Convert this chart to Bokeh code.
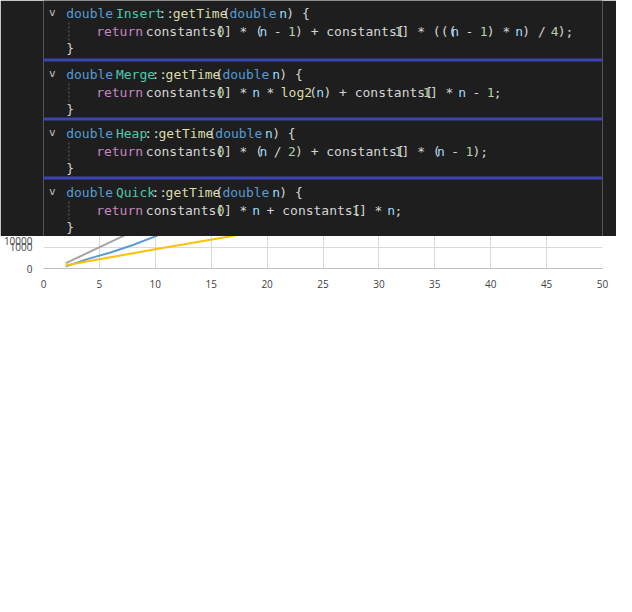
from bokeh.embed import file_html
from bokeh.resources import INLINE
from bokeh.layouts import column
from bokeh.models import Range1d, Legend, SingleIntervalTicker, NumeralTickFormatter
from bokeh.plotting import figure
from bokeh.core.properties import value

# chart values
insert_n = [2, 4, 6, 8, 10, 12, 14, 16, 18, 20, 22, 24, 26, 28, 30, 32]
insert_t = [100, 450, 750, 1100, 1500, 2000, 2650, 3400, 4200, 5000, 5850, 6800, 7850, 9000, 10250, 11500]
merge_n = [2, 3, 4, 5, 6, 7]
merge_t = [2600, 4400, 6300, 8200, 10100, 12000]
heap_n = [2, 10, 20, 30, 40, 50]
heap_t = [250, 2230, 4700, 7150, 9620, 12100]
quick_n = [2, 10, 20, 30, 40, 50]
quick_t = [150, 900, 1800, 2720, 3650, 4560]
x_ticks = list(range(0, 51, 5))

W = 616
MONO = "DejaVu Sans Mono"
CW = 13 * 0.602  # char width at 13px
KW, CL, FN, RET, VAR, NUM, TXT = "#569cd6", "#4ec9b0", "#dcdcaa", "#c586c0", "#9cdcfe", "#b5cea8", "#d4d4d4"

blocks = [
    ("Insert", [("return", RET), (" constants[", TXT), ("0", NUM), ("] * (", TXT), ("n", VAR), (" - ", TXT),
                ("1", NUM), (") + constants[", TXT), ("1", NUM), ("] * (((", TXT), ("n", VAR), (" - ", TXT),
                ("1", NUM), (") * ", TXT), ("n", VAR), (") / ", TXT), ("4", NUM), (");", TXT)]),
    ("Merge", [("return", RET), (" constants[", TXT), ("0", NUM), ("] * ", TXT), ("n", VAR), (" * ", TXT),
               ("log2", FN), ("(", TXT), ("n", VAR), (") + constants[", TXT), ("1", NUM), ("] * ", TXT),
               ("n", VAR), (" - ", TXT), ("1", NUM), (";", TXT)]),
    ("Heap", [("return", RET), (" constants[", TXT), ("0", NUM), ("] * (", TXT), ("n", VAR), (" / ", TXT),
              ("2", NUM), (") + constants[", TXT), ("1", NUM), ("] * (", TXT), ("n", VAR), (" - ", TXT),
              ("1", NUM), (");", TXT)]),
    ("Quick", [("return", RET), (" constants[", TXT), ("0", NUM), ("] * ", TXT), ("n", VAR),
               (" + constants[", TXT), ("1", NUM), ("] * ", TXT), ("n", VAR), (";", TXT)]),
]

code = figure(width=W, height=236, x_range=Range1d(0, W), y_range=Range1d(236, 0),
              toolbar_location=None, tools="", output_backend="svg",
              x_axis_location=None, y_axis_location=None,
              background_fill_color="#1e1e1e", border_fill_color="#1e1e1e",
              min_border_left=0, min_border_right=0, min_border_top=0, min_border_bottom=0,
              sizing_mode="fixed")
code.grid.visible = False
code.outline_line_color = None

xs, ys, texts, colors = [], [], [], []


def put(tokens, x0, y):
    x = x0
    for t, c in tokens:
        # leading/trailing spaces are skipped in SVG, so shift instead
        stripped = t.lstrip(" ")
        lead = len(t) - len(stripped)
        if stripped.strip():
            xs.append(x + lead * CW); ys.append(y); texts.append(stripped.rstrip(" ")); colors.append(c)
        x += len(t) * CW


block_top = [0, 61, 120, 179]
for i, (name, body) in enumerate(blocks):
    y0 = block_top[i]
    head = [("double", KW), (" ", TXT), (name, CL), ("::", TXT), ("getTime", FN), ("(", TXT),
            ("double", KW), (" ", TXT), ("n", VAR), (") {", TXT)]
    put(head, 25, y0 + 13)
    put(body, 58, y0 + 31)
    put([("}", TXT)], 25, y0 + 48)
    code.text(x=[6], y=[y0 + 12], text=["v"], text_color="#c0c0c0", text_font=value(MONO),
              text_font_size="11px", text_baseline="middle")
    code.segment(x0=[28], y0=[y0 + 22], x1=[28], y1=[y0 + 40], line_color="#606060",
                 line_dash="2 2", line_width=1)
    if i > 0:
        code.quad(left=0, right=W, bottom=y0 - 3, top=y0, fill_color="#3c43b4", line_color=None)

code.text(x=xs, y=ys, text=texts, text_color=colors, text_font=value(MONO),
          text_font_size="13px", text_baseline="middle")

p = figure(width=W, height=360, x_range=Range1d(0, 50), y_range=Range1d(0, 10000),
           toolbar_location=None, tools="", output_backend="svg",
           title="Теоретические time(n) сортировок", sizing_mode="fixed",
           min_border_left=10, min_border_right=14, min_border_top=10)
p.title.align = "center"
p.title.text_font = "Open Sans"
p.title.text_font_size = "15px"
p.title.text_font_style = "normal"
p.title.text_color = "#595959"
p.outline_line_color = None
p.xaxis.ticker = x_ticks
p.yaxis.ticker = SingleIntervalTicker(interval=1000)
p.yaxis.formatter = NumeralTickFormatter(format="0")
for ax in (p.xaxis, p.yaxis):
    ax.major_tick_line_color = None
    ax.minor_tick_line_color = None
    ax.major_label_text_font = "Open Sans"
    ax.major_label_text_font_size = "10px"
    ax.major_label_text_color = "#404040"
p.yaxis.axis_line_color = None
p.xaxis.axis_line_color = "#bfbfbf"
p.grid.grid_line_color = "#d9d9d9"

r1 = p.line(insert_n, insert_t, line_color="#5b9bd5", line_width=2)
r2 = p.line(merge_n, merge_t, line_color="#ed7d31", line_width=2)
r3 = p.line(heap_n, heap_t, line_color="#a5a5a5", line_width=2)
r4 = p.line(quick_n, quick_t, line_color="#ffc000", line_width=2)

legend = Legend(items=[("Insert", [r1]), ("Merge", [r2]), ("Heap", [r3]), ("Quick", [r4])],
                orientation="horizontal", location="center", border_line_color=None,
                label_text_font="Open Sans", label_text_font_size="10px",
                label_text_color="#404040", glyph_width=28, spacing=8, padding=2)
p.add_layout(legend, "below")

layout = column(code, p, spacing=0, sizing_mode="fixed", width=W, height=596)
open("out.html", "w").write(file_html(layout, INLINE))
